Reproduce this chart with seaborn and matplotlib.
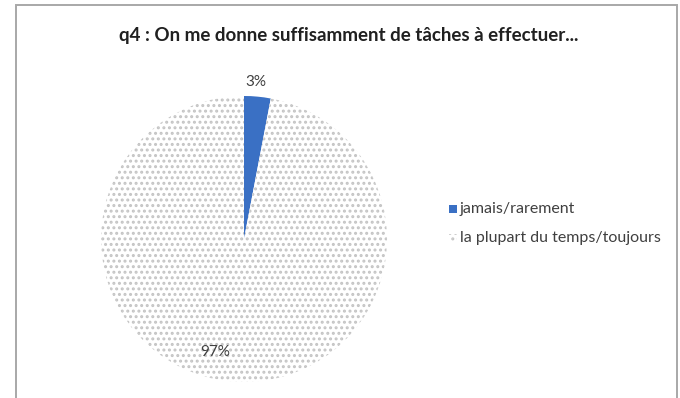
import matplotlib
matplotlib.use("Agg")
import matplotlib.pyplot as plt
import seaborn as sns
from matplotlib.patches import Rectangle

# --- Data ---
categories = ["jamais/rarement", "la plupart du temps/toujours"]
values = [3, 97]
title = "q4 : On me donne suffisamment de tâches à effectuer..."

# --- Colours ---
BLUE = "#3a70c4"
DOT_GREY = "#c4c4c4"

sns.set_style("white")
plt.rcParams["font.family"] = ["Lato", "DejaVu Sans"]
plt.rcParams["hatch.linewidth"] = 1.4

W, H = 680, 398
fig = plt.figure(figsize=(W / 100, H / 100), dpi=100)
fig.patch.set_facecolor("white")

# chart frame
fig.patches.append(Rectangle((16 / W, -0.01), 661 / W, (H - 5) / H + 0.01,
                             transform=fig.transFigure, fill=False,
                             edgecolor="#a8a8a8", linewidth=1.4))

cx, cy, r = 244, 239, 143
ax = fig.add_axes([(cx - r) / W, (H - cy - r) / H, 2 * r / W, 2 * r / H])
wedges, texts, autotexts = ax.pie(
    values, startangle=90, counterclock=False,
    colors=[BLUE, "white"], autopct="%1.0f%%", pctdistance=0.8,
    wedgeprops={"linewidth": 0},
    textprops={"fontsize": 11, "color": "#404040"},
)
wedges[1].set_hatch("...")
wedges[1].set_edgecolor(DOT_GREY)
wedges[1].set_linewidth(0)
ax.set_xlim(-1, 1)
ax.set_ylim(-1, 1)
ax.set_aspect("auto")
ax.axis("off")

autotexts[0].set_position((0.08, 1.1))
autotexts[1].set_position((-0.2, -0.79))

fig.text(349 / W, 1 - 35 / H, title, ha="center", va="center",
         fontsize=13.5, fontweight="bold", color="#202020")

# legend
leg_y = [209, 238]
for i, (lab, yy) in enumerate(zip(categories, leg_y)):
    if i == 0:
        fig.patches.append(Rectangle((449 / W, 1 - (yy + 4) / H), 8 / W, 8 / H,
                                     transform=fig.transFigure, facecolor=BLUE,
                                     edgecolor="none"))
    else:
        fig.patches.append(Rectangle((449 / W, 1 - (yy + 4) / H), 8 / W, 8 / H,
                                     transform=fig.transFigure, facecolor="white",
                                     edgecolor=DOT_GREY, hatch="...", linewidth=0))
    fig.text(460 / W, 1 - yy / H, lab, ha="left", va="center",
             fontsize=11.5, color="#404040")

fig.savefig("out.png", dpi=100)
